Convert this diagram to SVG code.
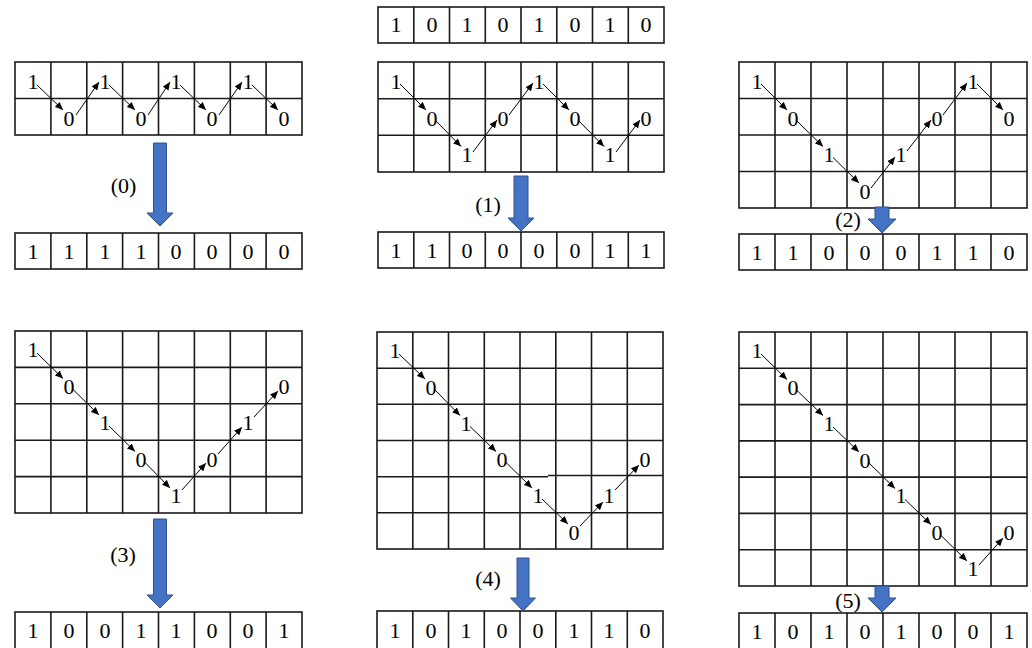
<svg xmlns="http://www.w3.org/2000/svg" width="1032" height="648" viewBox="0 0 1032 648">
<style>
.g{fill:none;stroke:#1a1a1a;stroke-width:1.6}
.t{font-family:"Liberation Serif","Times New Roman",serif;font-size:22px;fill:#000;text-anchor:middle}
.lb{font-family:"Liberation Serif","Times New Roman",serif;font-size:22px;fill:#000;text-anchor:middle}
.c{fill:none;stroke:#000;stroke-width:1;marker-end:url(#ah)}
.ba{fill:#4472C4;stroke:#2F528F;stroke-width:1}
</style>
<defs>
<marker id="ah" markerUnits="userSpaceOnUse" markerWidth="9" markerHeight="7" refX="8" refY="3.5" orient="auto">
<path d="M0,0 L8,3.5 L0,7 z" fill="#000"/>
</marker>
</defs>
<rect width="1032" height="648" fill="#fff"/>

<!-- input array -->
<g id="input-array">
<rect class="g" x="378" y="7" width="286" height="36"/>
<path class="g" d="M413.8 7V43M449.5 7V43M485.3 7V43M521 7V43M556.8 7V43M592.5 7V43M628.3 7V43"/>
<text class="t" x="396" y="32">1</text><text class="t" x="432" y="32">0</text><text class="t" x="467" y="32">1</text><text class="t" x="503" y="32">0</text><text class="t" x="539" y="32">1</text><text class="t" x="575" y="32">0</text><text class="t" x="610" y="32">1</text><text class="t" x="646" y="32">0</text>
</g>

<!-- panel 0 -->
<g id="grid0">
<rect class="g" x="15" y="62" width="287" height="73"/>
<path class="g" d="M15 98.5H302M50.9 62V135M86.8 62V135M122.6 62V135M158.5 62V135M194.4 62V135M230.3 62V135M266.1 62V135"/>
<text class="t" x="33" y="89">1</text><text class="t" x="69" y="125.5">0</text><text class="t" x="105" y="89">1</text><text class="t" x="141" y="125.5">0</text><text class="t" x="176" y="89">1</text><text class="t" x="212" y="125.5">0</text><text class="t" x="248" y="89">1</text><text class="t" x="284" y="125.5">0</text>
</g>
<g id="result0">
<rect class="g" x="15" y="233" width="287" height="36"/>
<path class="g" d="M50.9 233V269M86.8 233V269M122.6 233V269M158.5 233V269M194.4 233V269M230.3 233V269M266.1 233V269"/>
<text class="t" x="33" y="258.5">1</text><text class="t" x="69" y="258.5">1</text><text class="t" x="105" y="258.5">1</text><text class="t" x="141" y="258.5">1</text><text class="t" x="176" y="258.5">0</text><text class="t" x="212" y="258.5">0</text><text class="t" x="248" y="258.5">0</text><text class="t" x="284" y="258.5">0</text>
</g>
<g id="label0"><text class="lb" x="123.5" y="193">(0)</text></g>

<!-- panel 1 -->
<g id="grid1">
<rect class="g" x="378" y="62" width="286" height="110"/>
<path class="g" d="M378 98.7H664M378 135.3H664M413.8 62V172M449.5 62V172M485.3 62V172M521 62V172M556.8 62V172M592.5 62V172M628.3 62V172"/>
<text class="t" x="396" y="88.5">1</text><text class="t" x="432" y="125.5">0</text><text class="t" x="467" y="161.5">1</text><text class="t" x="503" y="125.5">0</text><text class="t" x="539" y="88.5">1</text><text class="t" x="575" y="125.5">0</text><text class="t" x="610" y="161.5">1</text><text class="t" x="646" y="125.5">0</text>
</g>
<g id="result1">
<rect class="g" x="378" y="232" width="286" height="36"/>
<path class="g" d="M413.8 232V268M449.5 232V268M485.3 232V268M521 232V268M556.8 232V268M592.5 232V268M628.3 232V268"/>
<text class="t" x="396" y="257.5">1</text><text class="t" x="432" y="257.5">1</text><text class="t" x="467" y="257.5">0</text><text class="t" x="503" y="257.5">0</text><text class="t" x="539" y="257.5">0</text><text class="t" x="575" y="257.5">0</text><text class="t" x="610" y="257.5">1</text><text class="t" x="646" y="257.5">1</text>
</g>
<g id="label1"><text class="lb" x="488" y="212">(1)</text></g>

<!-- panel 2 -->
<g id="grid2">
<rect class="g" x="739" y="62" width="288" height="146"/>
<path class="g" d="M739 98.5H1027M739 135H1027M739 171.5H1027M775 62V208M811 62V208M847 62V208M883 62V208M919 62V208M955 62V208M991 62V208"/>
<text class="t" x="757" y="88.5">1</text><text class="t" x="793" y="125.5">0</text><text class="t" x="829" y="161.5">1</text><text class="t" x="865" y="198.5">0</text><text class="t" x="901" y="161.5">1</text><text class="t" x="937" y="125.5">0</text><text class="t" x="973" y="88.5">1</text><text class="t" x="1009" y="125.5">0</text>
</g>
<g id="result2">
<rect class="g" x="739" y="234" width="288" height="36"/>
<path class="g" d="M775 234V270M811 234V270M847 234V270M883 234V270M919 234V270M955 234V270M991 234V270"/>
<text class="t" x="757" y="259.5">1</text><text class="t" x="793" y="259.5">1</text><text class="t" x="829" y="259.5">0</text><text class="t" x="865" y="259.5">0</text><text class="t" x="901" y="259.5">0</text><text class="t" x="937" y="259.5">1</text><text class="t" x="973" y="259.5">1</text><text class="t" x="1009" y="259.5">0</text>
</g>
<g id="label2"><text class="lb" x="848" y="227">(2)</text></g>

<!-- panel 3 -->
<g id="grid3">
<rect class="g" x="15" y="331" width="287" height="182"/>
<path class="g" d="M15 367.4H302M15 403.8H302M15 440.2H302M15 476.6H302M50.9 331V513M86.8 331V513M122.6 331V513M158.5 331V513M194.4 331V513M230.3 331V513M266.1 331V513"/>
<text class="t" x="33" y="357">1</text><text class="t" x="69" y="394">0</text><text class="t" x="105" y="430">1</text><text class="t" x="141" y="467">0</text><text class="t" x="176" y="503">1</text><text class="t" x="212" y="467">0</text><text class="t" x="248" y="430">1</text><text class="t" x="284" y="394">0</text>
</g>
<g id="result3">
<rect class="g" x="15" y="612" width="287" height="40"/>
<path class="g" d="M50.9 612V648M86.8 612V648M122.6 612V648M158.5 612V648M194.4 612V648M230.3 612V648M266.1 612V648"/>
<text class="t" x="33" y="638">1</text><text class="t" x="69" y="638">0</text><text class="t" x="105" y="638">0</text><text class="t" x="141" y="638">1</text><text class="t" x="176" y="638">1</text><text class="t" x="212" y="638">0</text><text class="t" x="248" y="638">0</text><text class="t" x="284" y="638">1</text>
</g>
<g id="label3"><text class="lb" x="123" y="562">(3)</text></g>

<!-- panel 4 -->
<g id="grid4">
<rect class="g" x="377" y="332" width="286" height="217"/>
<path class="g" d="M377 368.2H663M377 404.3H663M377 440.5H663M377 476.7H548M548 475.5H663M377 512.8H663M412.8 332V549M448.5 332V549M484.3 332V549M520 332V549M555.8 332V549M591.5 332V549M627.3 332V549"/>
<text class="t" x="395" y="358">1</text><text class="t" x="431" y="394.5">0</text><text class="t" x="466" y="430.5">1</text><text class="t" x="502" y="467">0</text><text class="t" x="538" y="503">1</text><text class="t" x="574" y="539.5">0</text><text class="t" x="609" y="503">1</text><text class="t" x="645" y="467">0</text>
</g>
<g id="result4">
<rect class="g" x="377" y="611" width="286" height="40"/>
<path class="g" d="M412.8 611V648M448.5 611V648M484.3 611V648M520 611V648M555.8 611V648M591.5 611V648M627.3 611V648"/>
<text class="t" x="395" y="638">1</text><text class="t" x="431" y="638">0</text><text class="t" x="466" y="638">1</text><text class="t" x="502" y="638">0</text><text class="t" x="538" y="638">0</text><text class="t" x="574" y="638">1</text><text class="t" x="609" y="638">1</text><text class="t" x="645" y="638">0</text>
</g>
<g id="label4"><text class="lb" x="488" y="586">(4)</text></g>

<!-- panel 5 -->
<g id="grid5">
<rect class="g" x="739" y="332" width="288" height="254"/>
<path class="g" d="M739 368.3H1027M739 404.6H1027M739 440.9H1027M739 477.1H1027M739 513.4H1027M739 549.7H1027M775 332V586M811 332V586M847 332V586M883 332V586M919 332V586M955 332V586M991 332V586"/>
<text class="t" x="757" y="358">1</text><text class="t" x="793" y="395">0</text><text class="t" x="829" y="430.7">1</text><text class="t" x="865" y="467.5">0</text><text class="t" x="901" y="503.3">1</text><text class="t" x="937" y="540">0</text><text class="t" x="973" y="576">1</text><text class="t" x="1009" y="540">0</text>
</g>
<g id="result5">
<rect class="g" x="739" y="613" width="288" height="40"/>
<path class="g" d="M775 613V648M811 613V648M847 613V648M883 613V648M919 613V648M955 613V648M991 613V648"/>
<text class="t" x="757" y="639">1</text><text class="t" x="793" y="639">0</text><text class="t" x="829" y="639">1</text><text class="t" x="865" y="639">0</text><text class="t" x="901" y="639">1</text><text class="t" x="937" y="639">0</text><text class="t" x="973" y="639">0</text><text class="t" x="1009" y="639">1</text>
</g>
<g id="label5"><text class="lb" x="848" y="608">(5)</text></g>

<g id="connectors">
<!-- panel 0 -->
<path class="c" d="M37 85L63 110"/><path class="c" d="M76 115L99 82"/>
<path class="c" d="M109 85L135 110"/><path class="c" d="M148 115L170 82"/>
<path class="c" d="M180 85L206 110"/><path class="c" d="M219 115L242 82"/>
<path class="c" d="M252 85L278 110"/>
<!-- panel 1 -->
<path class="c" d="M400 84L426 110"/><path class="c" d="M436 121L461 146.5"/>
<path class="c" d="M473 152L497 120"/><path class="c" d="M509 115L533 83"/>
<path class="c" d="M543 84L569 110"/><path class="c" d="M579 121L604 146.5"/>
<path class="c" d="M616 152L640 120"/>
<!-- panel 2 -->
<path class="c" d="M761 84L787 110"/><path class="c" d="M797 121L823 146.5"/>
<path class="c" d="M833 157.5L859 183"/><path class="c" d="M871 188L895 157"/>
<path class="c" d="M907 151L931 120"/><path class="c" d="M943 115L967 83"/>
<path class="c" d="M977 84L1003 110"/>
<!-- panel 3 -->
<path class="c" d="M37 353L63 378.5"/><path class="c" d="M73 389.5L99 415"/>
<path class="c" d="M109 426L135 451.5"/><path class="c" d="M145 462.5L170 488"/>
<path class="c" d="M182 490L206 463"/><path class="c" d="M218 454L242 427"/>
<path class="c" d="M254 417L278 391"/>
<!-- panel 4 -->
<path class="c" d="M399 354L425 379"/><path class="c" d="M435 390L460 415.5"/>
<path class="c" d="M470 426.5L496 451.5"/><path class="c" d="M506 462.5L532 488"/>
<path class="c" d="M542 499L568 524"/><path class="c" d="M580 526L603 502"/>
<path class="c" d="M615 490L639 465"/>
<!-- panel 5 -->
<path class="c" d="M761 354L787 379.5"/><path class="c" d="M797 390.5L823 415.5"/>
<path class="c" d="M833 427L859 452"/><path class="c" d="M869 463L895 488.5"/>
<path class="c" d="M905 499.5L931 524.5"/><path class="c" d="M941 535.5L967 561"/>
<path class="c" d="M979 565L1003 538"/>
<!-- block arrows -->
<path class="ba" d="M153.5 143H166.5V213H173L160 226L147 213H153.5Z"/>
<path class="ba" d="M514 176H528V218H534L521 231L508 218H514Z"/>
<path class="ba" d="M875 207H889V219H896L882 233L868 219H875Z"/>
<path class="ba" d="M153.5 519H166.5V595H173L160 608L147 595H153.5Z"/>
<path class="ba" d="M517 558H529V598H535.5L523 611L510.5 598H517Z"/>
<path class="ba" d="M875 586H889V598H896L882 612L868 598H875Z"/>
</g>
</svg>
